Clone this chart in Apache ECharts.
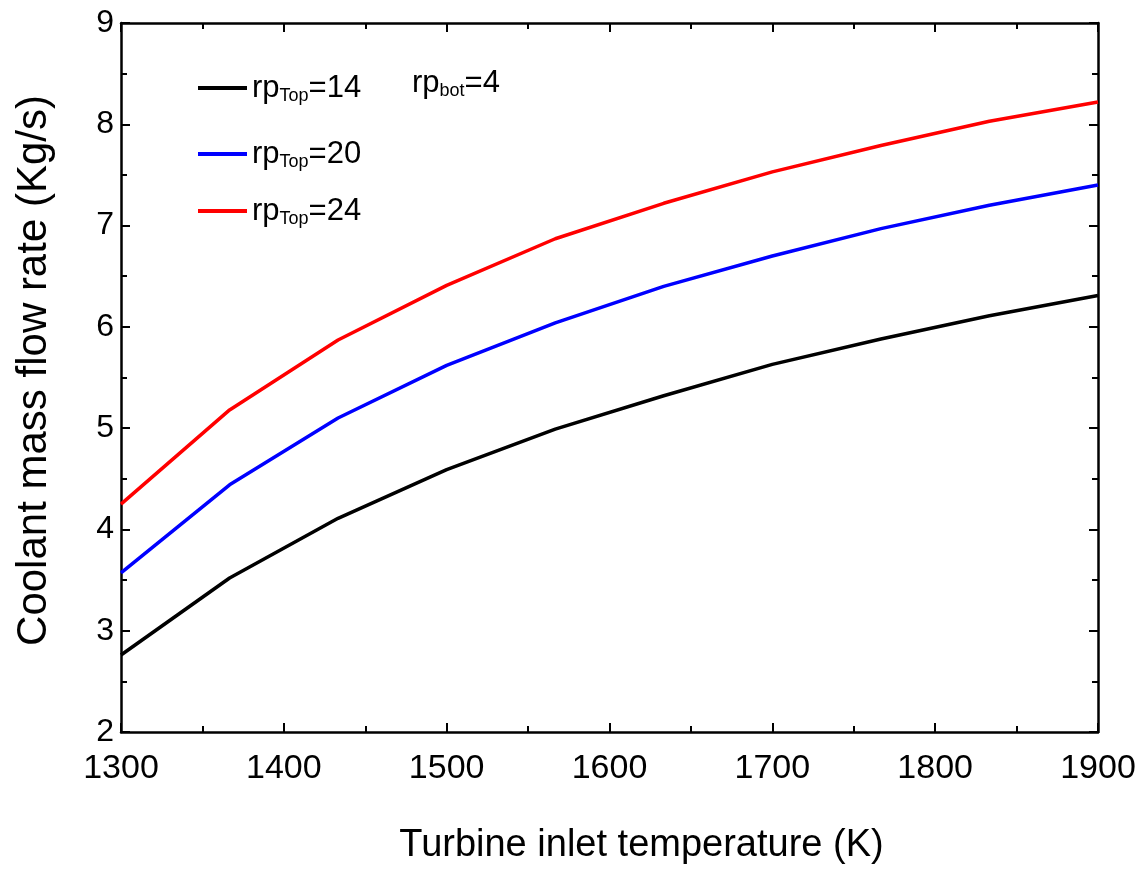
<!DOCTYPE html>
<html>
<head>
<meta charset="utf-8">
<script src="https://cdn.jsdelivr.net/npm/echarts@6/dist/echarts.min.js"></script>
<style>html,body{margin:0;padding:0;background:#fff}#c{width:1144px;height:870px}</style>
</head>
<body>
<div id="c"></div>
<script>
const temps = [1300, 1366.7, 1433.3, 1500, 1566.7, 1633.3, 1700, 1766.7, 1833.3, 1900];
const rp14 = [2.76, 3.52, 4.11, 4.59, 4.99, 5.32, 5.63, 5.88, 6.11, 6.31];
const rp20 = [3.57, 4.44, 5.10, 5.62, 6.04, 6.40, 6.70, 6.97, 7.20, 7.40];
const rp24 = [4.25, 5.18, 5.87, 6.41, 6.87, 7.22, 7.53, 7.79, 8.03, 8.22];
const seriesNames = ['rp14', 'rp20', 'rp24'];
const seriesLabels = ['14', '20', '24'];
const seriesColors = ['#000000', '#0000ff', '#ff0000'];
const seriesData = [rp14, rp20, rp24];
const xTitle = 'Turbine inlet temperature (K)';
const yTitle = 'Coolant mass flow rate (Kg/s)';

const FONT = '"Liberation Sans", Arial, sans-serif';
const chart = echarts.init(document.getElementById('c'), null, {renderer: 'canvas'});

const richStyles = {
  a: {fontFamily: FONT, fontSize: 31, color: '#000', lineHeight: 34},
  s: {fontFamily: FONT, fontSize: 18, color: '#000', lineHeight: 18, padding: [16, 0, 0, 0]}
};

const legendTops = [66, 132, 189];
const legends = seriesNames.map((n, i) => ({
  data: [n],
  left: 193,
  top: legendTops[i],
  icon: 'rect',
  itemWidth: 49,
  itemHeight: 4,
  selectedMode: false,
  formatter: () => `{a|rp}{s|Top}{a|=${seriesLabels[i]}}`,
  textStyle: {rich: richStyles}
}));

const axisCommon = {
  type: 'value',
  axisLine: {show: true, onZero: false, lineStyle: {color: '#000', width: 2.5}},
  axisTick: {show: true, inside: true, length: 9, lineStyle: {color: '#000', width: 2}},
  minorTick: {show: true, splitNumber: 2, length: 6, lineStyle: {color: '#000', width: 2}},
  splitLine: {show: false}
};

chart.setOption({
  animation: false,
  backgroundColor: '#fff',
  grid: {left: 121, right: 46, top: 23, bottom: 136, containLabel: false},
  legend: legends,
  xAxis: [
    Object.assign({}, axisCommon, {
      position: 'bottom', min: 1300, max: 1900, interval: 100,
      axisLabel: {fontFamily: FONT, fontSize: 34, color: '#000', margin: 20, formatter: v => String(v)},
      name: xTitle, nameLocation: 'middle', nameGap: 95,
      nameTextStyle: {fontFamily: FONT, fontSize: 38, color: '#000', padding: [0, 0, 0, 64]}
    }),
    Object.assign({}, axisCommon, {
      position: 'top', min: 1300, max: 1900, interval: 100,
      axisLabel: {show: false}
    })
  ],
  yAxis: [
    Object.assign({}, axisCommon, {
      position: 'left', min: 2, max: 9, interval: 1,
      axisLabel: {fontFamily: FONT, fontSize: 32, color: '#000', margin: 7, formatter: v => String(v)},
      name: yTitle, nameLocation: 'middle', nameGap: 66,
      nameTextStyle: {fontFamily: FONT, fontSize: 42, color: '#000', padding: [0, 0, 0, 14]}
    }),
    Object.assign({}, axisCommon, {
      position: 'right', min: 2, max: 9, interval: 1,
      axisLabel: {show: false}
    })
  ],
  series: seriesNames.map((n, i) => ({
    name: n,
    type: 'line',
    xAxisIndex: 0,
    yAxisIndex: 0,
    showSymbol: false,
    symbol: 'none',
    color: seriesColors[i],
    lineStyle: {color: seriesColors[i], width: 3.5},
    data: temps.map((t, k) => [t, seriesData[i][k]])
  })),
  graphic: [{
    type: 'text',
    left: 412,
    top: 66,
    style: {
      text: '{a|rp}{s|bot}{a|=4}',
      rich: richStyles
    }
  }]
});
</script>
</body>
</html>
